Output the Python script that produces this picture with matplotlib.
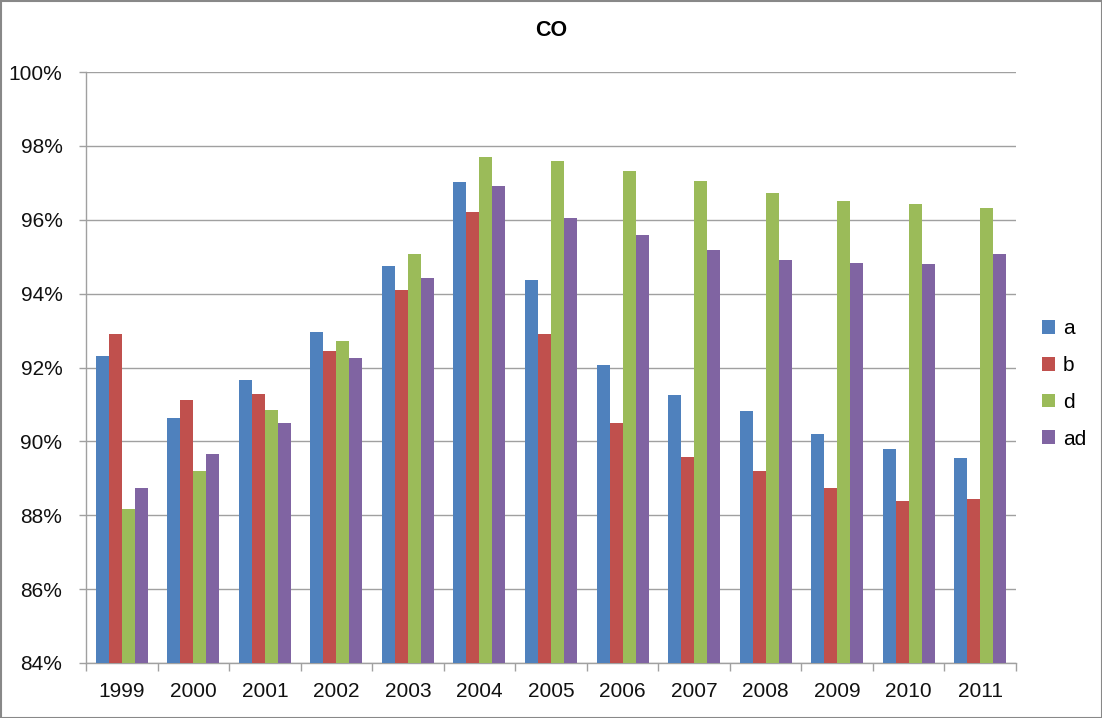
import matplotlib
matplotlib.use("Agg")
import matplotlib.pyplot as plt
import numpy as np
from matplotlib.patches import Rectangle
from matplotlib.ticker import FixedLocator, FuncFormatter

years = ["1999", "2000", "2001", "2002", "2003", "2004", "2005",
         "2006", "2007", "2008", "2009", "2010", "2011"]
series_names = ["a", "b", "d", "ad"]
a_vals = [92.30, 90.63, 91.66, 92.96, 94.76, 97.01, 94.37, 92.08, 91.26, 90.83, 90.20, 89.80, 89.55]
b_vals = [92.92, 91.13, 91.28, 92.46, 94.11, 96.21, 92.91, 90.51, 89.57, 89.20, 88.73, 88.38, 88.44]
d_vals = [88.16, 89.21, 90.86, 92.73, 95.06, 97.71, 97.58, 97.31, 97.05, 96.72, 96.52, 96.43, 96.31]
ad_vals = [88.74, 89.67, 90.49, 92.26, 94.42, 96.92, 96.04, 95.58, 95.17, 94.90, 94.84, 94.81, 95.06]
colors = ["#4F81BD", "#C0504D", "#9BBB59", "#8064A2"]

plt.rcParams['font.family'] = ['Liberation Sans', 'DejaVu Sans']

fig = plt.figure(figsize=(11.02, 7.18), dpi=100)
ax = fig.add_axes([86/1102, 1 - 663/718, (1016-86)/1102, (663-72)/718])

x = np.arange(len(years))
w = 1 / 5.5
base = 84
for i, (vals, c, name) in enumerate(zip([a_vals, b_vals, d_vals, ad_vals], colors, series_names)):
    offs = (i - 1.5) * w
    ax.bar(x + offs, np.array(vals) - base, width=w, bottom=base, color=c, label=name, zorder=3)

ax.set_xlim(-0.5, len(years) - 0.5)
ax.set_ylim(84, 100)
ax.set_yticks(np.arange(84, 101, 2))
ax.yaxis.set_major_formatter(FuncFormatter(lambda v, p: f"{int(round(v))}%"))
ax.set_xticks(x)
ax.set_xticklabels(years)
ax.xaxis.set_minor_locator(FixedLocator(np.arange(-0.5, len(years), 1)))
ax.tick_params(axis='x', which='major', length=0, pad=14, labelsize=15, labelcolor='#111111')
ax.tick_params(axis='x', which='minor', length=6, color='#a0a0a0', width=1)
ax.tick_params(axis='y', which='major', length=5, color='#a0a0a0', width=1, labelsize=15,
               pad=12, labelcolor='#111111')
ax.grid(axis='y', color='#a0a0a0', lw=1, zorder=0)
for s in ['top', 'right']:
    ax.spines[s].set_visible(False)
for s in ['left', 'bottom']:
    ax.spines[s].set_color('#a0a0a0')
    ax.spines[s].set_linewidth(1)

fig.text(551/1102, 1 - 30.5/718, "CO", ha='center', va='center', fontsize=15.5, fontweight='bold')

leg = fig.legend(loc='center left', bbox_to_anchor=(1034/1102, 1 - 384/718), frameon=False,
                 fontsize=15, handlelength=0.63, handleheight=0.63, labelspacing=0.85,
                 handletextpad=0.35, borderaxespad=0)

fig.patches.append(Rectangle((0.5/1102, 0.5/718), 1 - 1/1102, 1 - 1/718, transform=fig.transFigure,
                             fill=False, edgecolor='#888888', lw=1.5))

fig.savefig("out.png", dpi=100)
